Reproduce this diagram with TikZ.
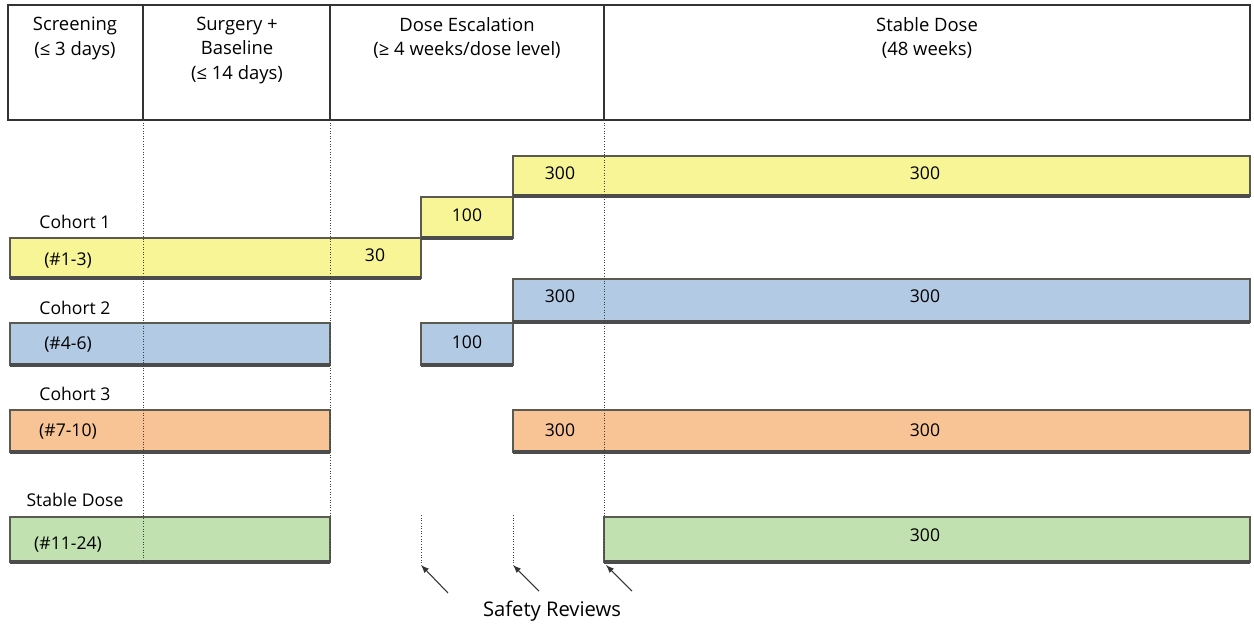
\documentclass[tikz,border=0pt]{standalone}
\usepackage{fontspec}
\setmainfont{Open Sans}
\usetikzlibrary{arrows}
\definecolor{cyellow}{RGB}{247, 245, 150}
\definecolor{cblue}{RGB}{178, 202, 228}
\definecolor{corange}{RGB}{248, 196, 150}
\definecolor{cgreen}{RGB}{193, 225, 176}
\definecolor{edge}{RGB}{90, 90, 80}

\begin{document}
\begin{tikzpicture}[x=0.02cm, y=-0.02cm,
  bar/.style={draw=edge, line width=1pt},
  shade/.style={line width=1.8pt, black!70},
  hdr/.style={anchor=north, align=center, font=\fontsize{10.5}{13.8}\selectfont},
  lbl/.style={font=\fontsize{10}{12}\selectfont},
  dots/.style={densely dotted, line width=0.5pt, black!75}]
\useasboundingbox (0,0) rectangle (1254,627);

% header
\draw[line width=1.4pt, black!80] (8,5) rectangle (1250,120);
\foreach \x in {143,330,604}
  \draw[line width=0.8pt, black!80] (\x,5) -- (\x,120);
\node[hdr] (hscr) at (75,11) {Screening\\(≤ 3 days)};
\node[hdr] (hsur) at (237,11) {Surgery +\\Baseline\\(≤ 14 days)};
\node[hdr] (hesc) at (467,11) {Dose Escalation\\(≥ 4 weeks/dose level)};
\node[hdr] (hsta) at (927,11) {Stable Dose\\(48 weeks)};

% cohort 1
\draw[bar, fill=cyellow] (10,238) rectangle (421,278);
\draw[bar, fill=cyellow] (421,197) rectangle (513,238);
\draw[bar, fill=cyellow] (513,156) rectangle (1250,196);
\draw[shade] (10,278) -- (421,278) (421,238) -- (513,238) (513,196) -- (1250,196);
\node[lbl] (c1) at (75,222) {Cohort 1};
\node[lbl] (c1n) at (68,261) {(\#1-3)};
\node[lbl] (c1a) at (375,255) {30};
\node[lbl] (c1b) at (467,215) {100};
\node[lbl] (c1c) at (560,173) {300};
\node[lbl] (c1d) at (925,173) {300};

% cohort 2
\draw[bar, fill=cblue] (10,323) rectangle (330,365);
\draw[bar, fill=cblue] (421,323) rectangle (513,365);
\draw[bar, fill=cblue] (513,279) rectangle (1250,322);
\draw[shade] (10,365) -- (330,365) (421,365) -- (513,365) (513,322) -- (1250,322);
\node[lbl] (c2) at (75,308) {Cohort 2};
\node[lbl] (c2n) at (68,345) {(\#4-6)};
\node[lbl] (c2b) at (467,342) {100};
\node[lbl] (c2c) at (560,296) {300};
\node[lbl] (c2d) at (925,296) {300};

% cohort 3
\draw[bar, fill=corange] (10,410) rectangle (330,452);
\draw[bar, fill=corange] (513,410) rectangle (1250,452);
\draw[shade] (10,452) -- (330,452) (513,452) -- (1250,452);
\node[lbl] (c3) at (75,394) {Cohort 3};
\node[lbl] (c3n) at (68,432) {(\#7-10)};
\node[lbl] (c3c) at (560,430) {300};
\node[lbl] (c3d) at (925,430) {300};

% stable dose
\draw[bar, fill=cgreen] (10,517) rectangle (330,562);
\draw[bar, fill=cgreen] (604,517) rectangle (1250,562);
\draw[shade] (10,562) -- (330,562) (604,562) -- (1250,562);
\node[lbl] (c4) at (75,500) {Stable Dose};
\node[lbl] (c4n) at (68,545) {(\#11-24)};
\node[lbl] (c4d) at (925,535) {300};

% time lines
\draw[dots] (143,120) -- (143,562);
\draw[dots] (330,120) -- (330,562);
\draw[dots] (604,120) -- (604,562);
\coordinate (r1) at (421,565);
\coordinate (r2) at (513,565);
\coordinate (r3) at (606,565);
\draw[dots] (421,515) -- (r1);
\draw[dots] (513,515) -- (r2);

% safety reviews
\node[font=\fontsize{11.5}{13}\selectfont] (safe) at (552,611) {Safety Reviews};
\coordinate (a1) at (448,593);
\coordinate (a2) at (539,591);
\coordinate (a3) at (632,591);
\foreach \i in {1,2,3}
  \draw[-latex, line width=0.6pt, black!80] (a\i) -- (r\i);
\end{tikzpicture}
\end{document}
